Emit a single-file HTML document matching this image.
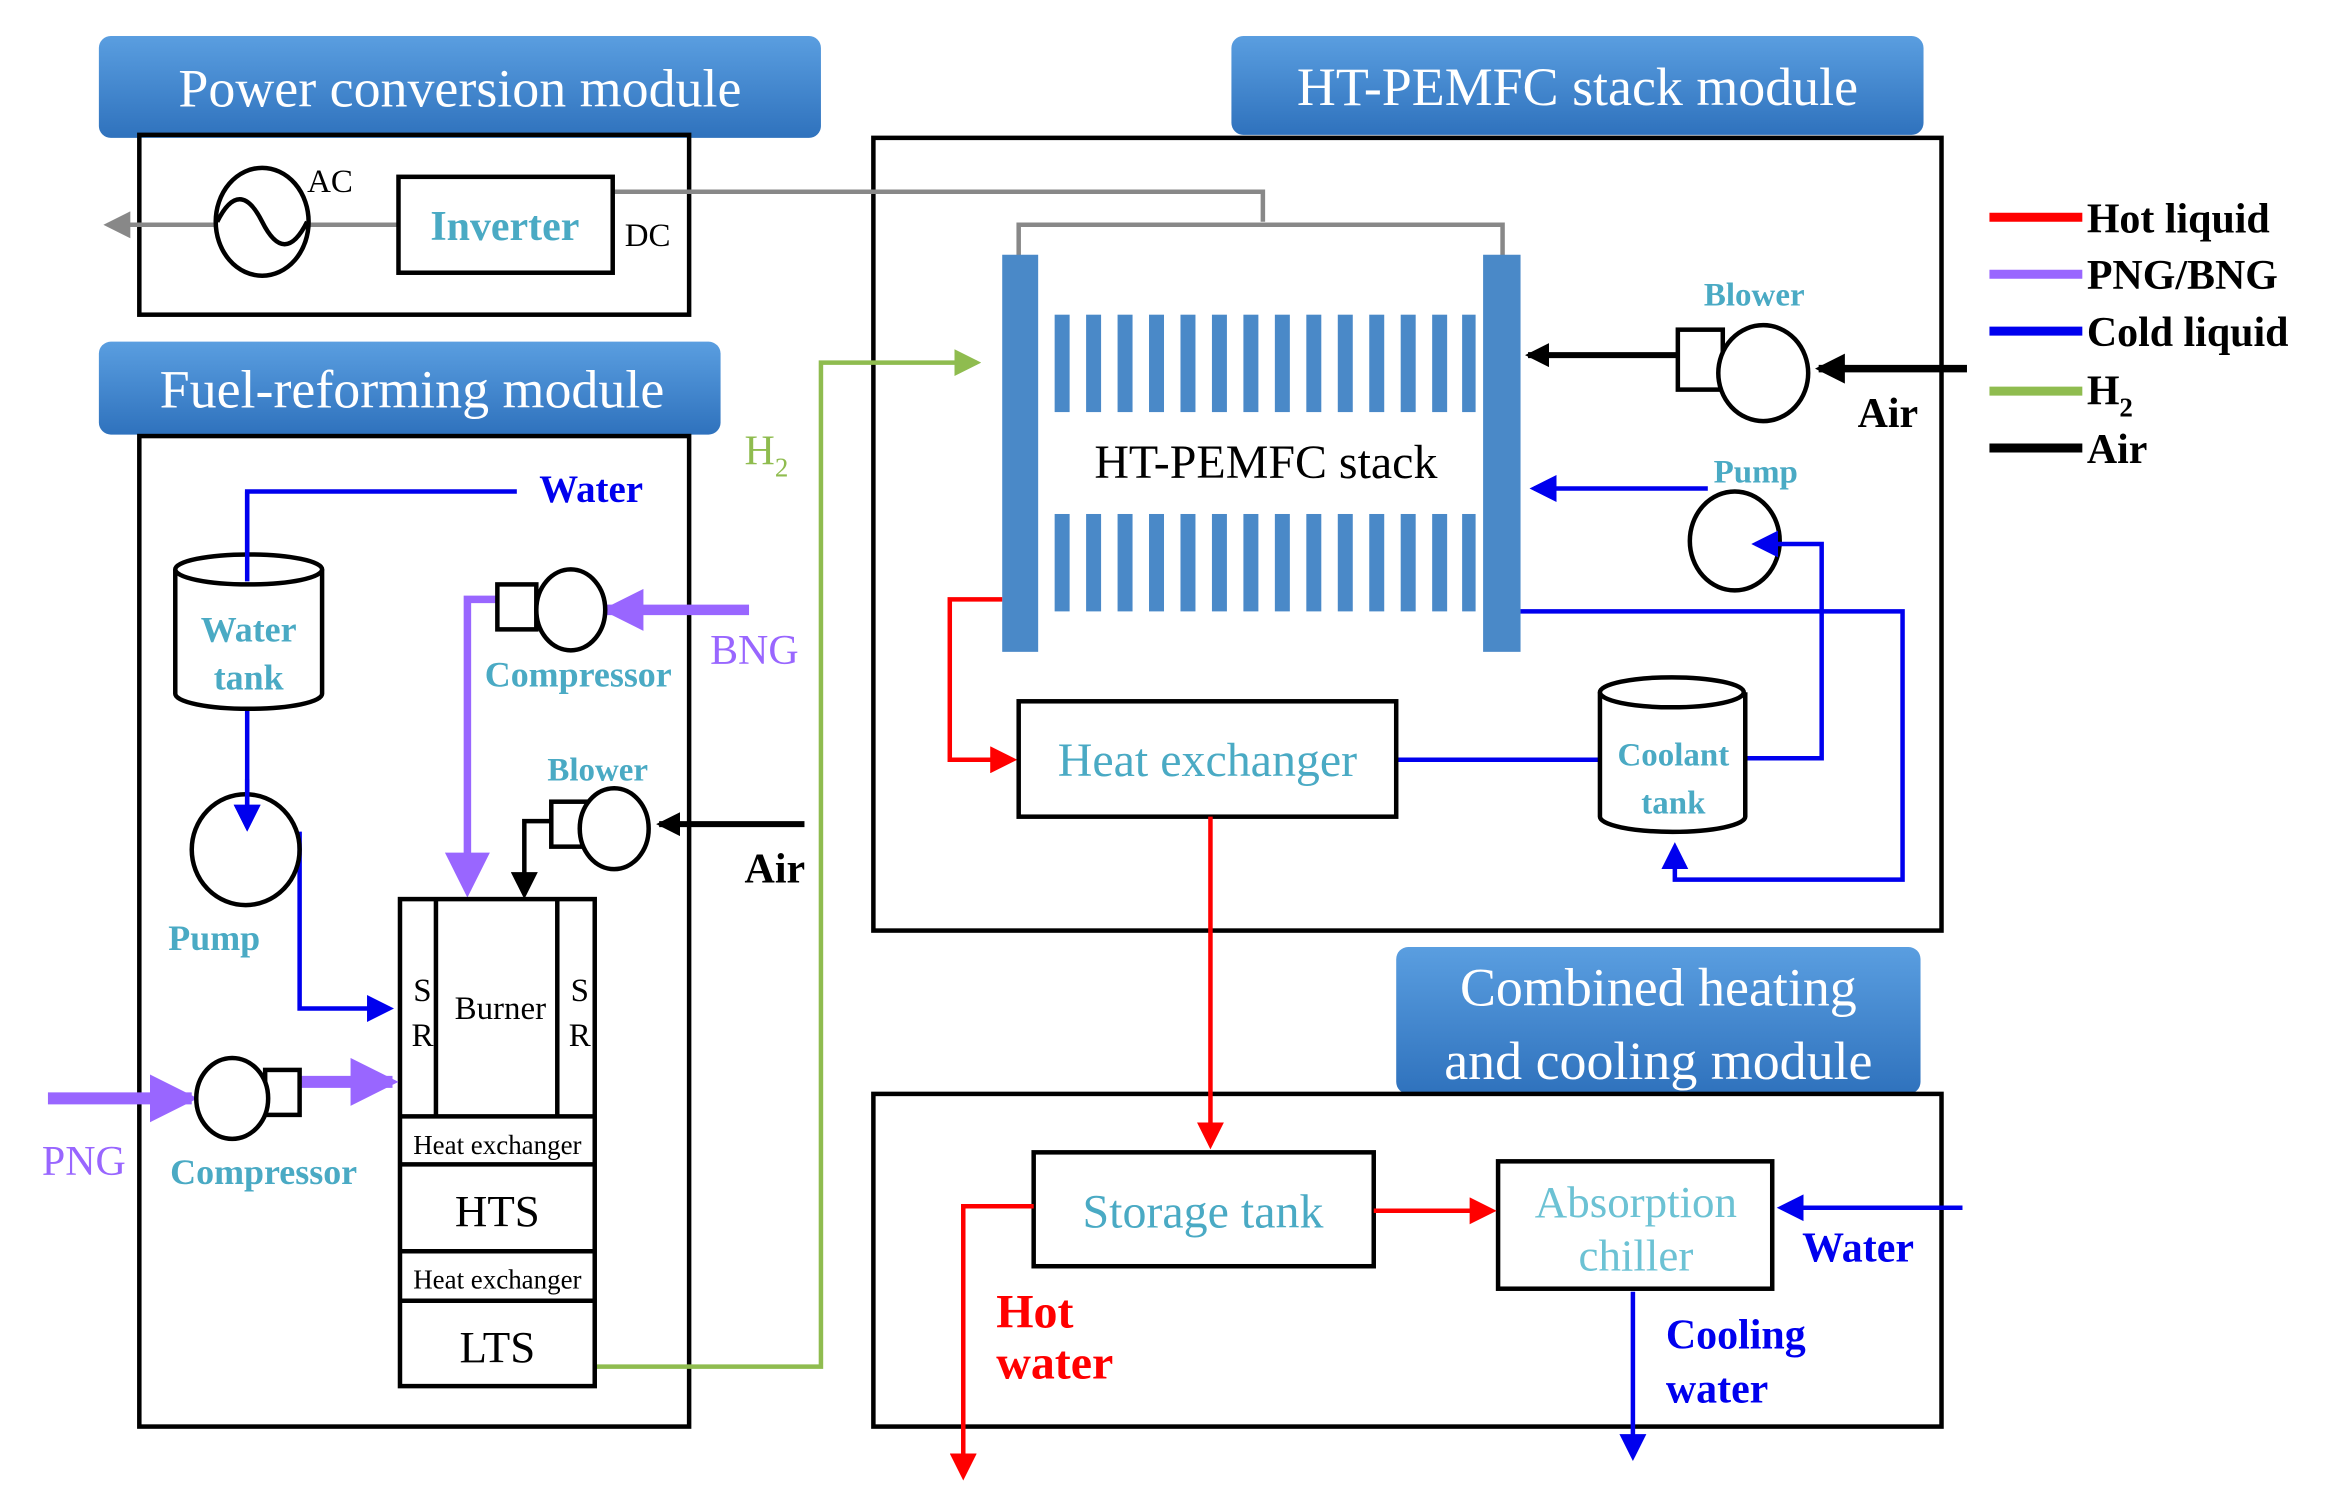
<!DOCTYPE html>
<html><head><meta charset="utf-8"><style>
html,body{margin:0;padding:0;background:#fff;}
svg{display:block;}
text{font-family:"Liberation Serif",serif;}
.t{fill:#4aaac4;font-weight:bold;}
</style></head><body>
<svg width="2337" height="1497" viewBox="0 0 1560 999" preserveAspectRatio="none" xmlns="http://www.w3.org/2000/svg">
<defs>
<linearGradient id="g" x1="0" y1="0" x2="0" y2="1"><stop offset="0" stop-color="#5a9ee0"/><stop offset="1" stop-color="#2f72bd"/></linearGradient>
<marker id="ab" markerWidth="6" markerHeight="6" refX="5" refY="3" orient="auto" markerUnits="strokeWidth"><path d="M0,0L6,3L0,6z" fill="#0000ee"/></marker>
<marker id="ar" markerWidth="6" markerHeight="6" refX="5" refY="3" orient="auto" markerUnits="strokeWidth"><path d="M0,0L6,3L0,6z" fill="#f00"/></marker>
<marker id="ak" markerWidth="4" markerHeight="4" refX="3.5" refY="2" orient="auto" markerUnits="strokeWidth"><path d="M0,0L4,2L0,4z" fill="#000"/></marker>
<marker id="ak2" markerWidth="6" markerHeight="6" refX="5" refY="3" orient="auto" markerUnits="strokeWidth"><path d="M0,0L6,3L0,6z" fill="#000"/></marker>
<marker id="ap" markerWidth="4" markerHeight="4" refX="3.5" refY="2" orient="auto" markerUnits="strokeWidth"><path d="M0,0L4,2L0,4z" fill="#9966ff"/></marker>
<marker id="ap2" markerWidth="6" markerHeight="6" refX="5" refY="3" orient="auto" markerUnits="strokeWidth"><path d="M0,0L6,3L0,6z" fill="#9966ff"/></marker>
<marker id="ag" markerWidth="6" markerHeight="6" refX="5" refY="3" orient="auto" markerUnits="strokeWidth"><path d="M0,0L6,3L0,6z" fill="#8fbc4f"/></marker>
<marker id="agr" markerWidth="6" markerHeight="6" refX="5" refY="3" orient="auto" markerUnits="strokeWidth"><path d="M0,0L6,3L0,6z" fill="#888"/></marker>
</defs>

<rect x="66" y="24" width="482" height="68" rx="8" fill="url(#g)"/>
<text x="307" y="71" font-size="36" fill="#fff" text-anchor="middle">Power conversion module</text>
<rect x="822" y="24" width="462" height="66" rx="8" fill="url(#g)"/>
<text x="1053" y="70" font-size="36" fill="#fff" text-anchor="middle">HT-PEMFC stack module</text>
<rect x="66" y="228" width="415" height="62" rx="8" fill="url(#g)"/>
<text x="275" y="272" font-size="36" fill="#fff" text-anchor="middle">Fuel-reforming module</text>
<rect x="932" y="632" width="350" height="98" rx="8" fill="url(#g)"/>
<text x="1107" y="671" font-size="36" fill="#fff" text-anchor="middle">Combined heating</text>
<text x="1107" y="720" font-size="36" fill="#fff" text-anchor="middle">and cooling module</text>

<g fill="none" stroke="#000" stroke-width="3">
<rect x="93" y="90" width="367" height="120"/>
<rect x="583" y="92" width="713" height="529"/>
<rect x="93" y="291" width="367" height="661"/>
<rect x="583" y="730" width="713" height="222"/>
</g>

<g stroke="#888" stroke-width="3" fill="none">
<line x1="266" y1="150" x2="72" y2="150" marker-end="url(#agr)"/>
<polyline points="409,128 843,128 843,148"/>
<polyline points="680,172 680,150 1003,150 1003,172"/>
</g>
<ellipse cx="175" cy="148" rx="31" ry="36" fill="#fff" stroke="#000" stroke-width="3"/>
<path d="M145,148 C155,128 165,128 175,148 C185,168 195,168 205,148" fill="none" stroke="#000" stroke-width="3"/>
<text x="205" y="128" font-size="22">AC</text>
<rect x="266" y="118" width="143" height="64" fill="#fff" stroke="#000" stroke-width="3"/>
<text x="337" y="160" font-size="28" class="t" text-anchor="middle">Inverter</text>
<text x="417" y="164" font-size="22">DC</text>

<rect x="669" y="170" width="24" height="265" fill="#4a89c8"/>
<rect x="990" y="170" width="25" height="265" fill="#4a89c8"/>
<g fill="#4a89c8">
<rect x="704" y="210" width="10" height="65"/><rect x="725" y="210" width="10" height="65"/><rect x="746" y="210" width="10" height="65"/><rect x="767" y="210" width="10" height="65"/><rect x="788" y="210" width="10" height="65"/><rect x="809" y="210" width="10" height="65"/><rect x="830" y="210" width="10" height="65"/><rect x="851" y="210" width="10" height="65"/><rect x="872" y="210" width="10" height="65"/><rect x="893" y="210" width="10" height="65"/><rect x="914" y="210" width="10" height="65"/><rect x="935" y="210" width="10" height="65"/><rect x="956" y="210" width="10" height="65"/><rect x="976" y="210" width="9" height="65"/>
<rect x="704" y="343" width="10" height="65"/><rect x="725" y="343" width="10" height="65"/><rect x="746" y="343" width="10" height="65"/><rect x="767" y="343" width="10" height="65"/><rect x="788" y="343" width="10" height="65"/><rect x="809" y="343" width="10" height="65"/><rect x="830" y="343" width="10" height="65"/><rect x="851" y="343" width="10" height="65"/><rect x="872" y="343" width="10" height="65"/><rect x="893" y="343" width="10" height="65"/><rect x="914" y="343" width="10" height="65"/><rect x="935" y="343" width="10" height="65"/><rect x="956" y="343" width="10" height="65"/><rect x="976" y="343" width="9" height="65"/>
</g>
<text x="845" y="319" font-size="32" text-anchor="middle">HT-PEMFC stack</text>

<line x1="1313" y1="246" x2="1214" y2="246" stroke="#000" stroke-width="5" marker-end="url(#ak)"/>
<line x1="1120" y1="237" x2="1020" y2="237" stroke="#000" stroke-width="4" marker-end="url(#ak)"/>
<rect x="1120" y="220" width="30" height="40" fill="#fff" stroke="#000" stroke-width="3"/>
<ellipse cx="1177" cy="249" rx="30" ry="32" fill="#fff" stroke="#000" stroke-width="3"/>
<text x="1171" y="204" font-size="22" class="t" text-anchor="middle">Blower</text>
<text x="1240" y="285" font-size="28" font-weight="bold">Air</text>
<ellipse cx="1158" cy="361" rx="30" ry="33" fill="#fff" stroke="#000" stroke-width="3"/>
<text x="1172" y="322" font-size="22" class="t" text-anchor="middle">Pump</text>
<g fill="none" stroke="#0000ee" stroke-width="3">
<line x1="1140" y1="326" x2="1024" y2="326" marker-end="url(#ab)"/>
<polyline points="1015,408 1270,408 1270,587 1118,587 1118,565" marker-end="url(#ab)"/>
<polyline points="1165,506 1216,506 1216,363 1172,363" marker-end="url(#ab)"/>
<line x1="932" y1="507" x2="1068" y2="507"/>
</g>
<path d="M1068,462 L1068,545 A48,10 0 0 0 1165,545 L1165,462" fill="#fff" stroke="#000" stroke-width="3"/>
<ellipse cx="1116" cy="462" rx="48" ry="10" fill="#fff" stroke="#000" stroke-width="3"/>
<text x="1117" y="511" font-size="22" class="t" text-anchor="middle">Coolant</text>
<text x="1117" y="543" font-size="22" class="t" text-anchor="middle">tank</text>

<polyline points="669,400 634,400 634,507 676,507" fill="none" stroke="#f00" stroke-width="3" marker-end="url(#ar)"/>
<rect x="680" y="468" width="252" height="77" fill="#fff" stroke="#000" stroke-width="3"/>
<text x="806" y="518" font-size="32" fill="#4aaac4" text-anchor="middle">Heat exchanger</text>
<line x1="808" y1="545" x2="808" y2="764" stroke="#f00" stroke-width="3" marker-end="url(#ar)"/>

<g stroke-width="6">
<line x1="1328" y1="145" x2="1390" y2="145" stroke="#f00"/>
<line x1="1328" y1="183" x2="1390" y2="183" stroke="#9966ff"/>
<line x1="1328" y1="221" x2="1390" y2="221" stroke="#0000ee"/>
<line x1="1328" y1="261" x2="1390" y2="261" stroke="#8fbc4f"/>
<line x1="1328" y1="299" x2="1390" y2="299" stroke="#000"/>
</g>
<g font-size="28" font-weight="bold">
<text x="1393" y="155">Hot liquid</text>
<text x="1393" y="193">PNG/BNG</text>
<text x="1393" y="231">Cold liquid</text>
<text x="1393" y="270">H<tspan font-size="18" dy="8">2</tspan></text>
<text x="1393" y="309">Air</text>
</g>

<rect x="690" y="769" width="227" height="76" fill="#fff" stroke="#000" stroke-width="3"/>
<text x="803" y="819" font-size="32" fill="#4aaac4" text-anchor="middle">Storage tank</text>
<rect x="1000" y="775" width="183" height="85" fill="#fff" stroke="#000" stroke-width="3"/>
<text x="1092" y="812" font-size="30" fill="#6cc2d4" text-anchor="middle">Absorption</text>
<text x="1092" y="848" font-size="30" fill="#6cc2d4" text-anchor="middle">chiller</text>
<line x1="917" y1="808" x2="996" y2="808" stroke="#f00" stroke-width="3" marker-end="url(#ar)"/>
<line x1="1310" y1="806" x2="1189" y2="806" stroke="#0000ee" stroke-width="3" marker-end="url(#ab)"/>
<text x="1203" y="842" font-size="28" font-weight="bold" fill="#0000ee">Water</text>
<line x1="1090" y1="862" x2="1090" y2="972" stroke="#0000ee" stroke-width="3" marker-end="url(#ab)"/>
<text x="1112" y="900" font-size="28" font-weight="bold" fill="#0000ee">Cooling</text>
<text x="1112" y="936" font-size="28" font-weight="bold" fill="#0000ee">water</text>
<polyline points="690,805 643,805 643,985" fill="none" stroke="#f00" stroke-width="3" marker-end="url(#ar)"/>
<text x="665" y="886" font-size="32" font-weight="bold" fill="#f00">Hot</text>
<text x="665" y="920" font-size="32" font-weight="bold" fill="#f00">water</text>

<polyline points="397,912 548,912 548,242 652,242" fill="none" stroke="#8fbc4f" stroke-width="3" marker-end="url(#ag)"/>
<text x="497" y="310" font-size="28" fill="#8fbc4f">H<tspan font-size="18" dy="8">2</tspan></text>

<g fill="none" stroke="#0000ee" stroke-width="3">
<polyline points="345,328 165,328 165,378"/>
<line x1="165" y1="473" x2="165" y2="552" marker-end="url(#ab)"/>
<polyline points="200,555 200,673 260,673" marker-end="url(#ab)"/>
</g>
<text x="360" y="335" font-size="26" font-weight="bold" fill="#0000ee">Water</text>
<path d="M117,380 L117,463 A49,10 0 0 0 215,463 L215,380" fill="#fff" stroke="#000" stroke-width="3"/>
<ellipse cx="166" cy="380" rx="49" ry="10" fill="#fff" stroke="#000" stroke-width="3"/>
<line x1="165" y1="328" x2="165" y2="388" stroke="#0000ee" stroke-width="3"/>
<text x="166" y="428" font-size="24" class="t" text-anchor="middle">Water</text>
<text x="166" y="460" font-size="24" class="t" text-anchor="middle">tank</text>
<ellipse cx="164" cy="567" rx="36" ry="37" fill="none" stroke="#000" stroke-width="3"/>
<line x1="165" y1="520" x2="165" y2="552" stroke="#0000ee" stroke-width="3" marker-end="url(#ab)"/>
<text x="143" y="634" font-size="24" class="t" text-anchor="middle">Pump</text>

<line x1="500" y1="407" x2="405" y2="407" stroke="#9966ff" stroke-width="7" marker-end="url(#ap)"/>
<polyline points="332,400 312,400 312,594" fill="none" stroke="#9966ff" stroke-width="5" marker-end="url(#ap2)"/>
<rect x="332" y="390" width="26" height="30" fill="#fff" stroke="#000" stroke-width="3"/>
<ellipse cx="381" cy="407" rx="23" ry="27" fill="#fff" stroke="#000" stroke-width="3"/>
<text x="386" y="458" font-size="24" class="t" text-anchor="middle">Compressor</text>
<text x="474" y="443" font-size="28" fill="#9966ff">BNG</text>

<line x1="537" y1="550" x2="440" y2="550" stroke="#000" stroke-width="4" marker-end="url(#ak)"/>
<polyline points="368,548 350,548 350,597" fill="none" stroke="#000" stroke-width="3" marker-end="url(#ak2)"/>
<rect x="368" y="535" width="25" height="30" fill="#fff" stroke="#000" stroke-width="3"/>
<ellipse cx="410" cy="553" rx="23" ry="27" fill="#fff" stroke="#000" stroke-width="3"/>
<text x="399" y="521" font-size="22" class="t" text-anchor="middle">Blower</text>
<text x="497" y="589" font-size="28" font-weight="bold">Air</text>

<g fill="#fff" stroke="#000" stroke-width="3">
<rect x="267" y="600" width="130" height="325"/>
<line x1="291" y1="600" x2="291" y2="745"/>
<line x1="372" y1="600" x2="372" y2="745"/>
<line x1="267" y1="745" x2="397" y2="745"/>
<line x1="267" y1="777" x2="397" y2="777"/>
<line x1="267" y1="835" x2="397" y2="835"/>
<line x1="267" y1="868" x2="397" y2="868"/>
</g>
<g font-size="22">
<text x="282" y="668" text-anchor="middle">S</text><text x="282" y="698" text-anchor="middle">R</text>
<text x="387" y="668" text-anchor="middle">S</text><text x="387" y="698" text-anchor="middle">R</text>
<text x="334" y="680" text-anchor="middle">Burner</text>
</g>
<text x="332" y="770" font-size="18" text-anchor="middle">Heat exchanger</text>
<text x="332" y="818" font-size="30" text-anchor="middle">HTS</text>
<text x="332" y="860" font-size="18" text-anchor="middle">Heat exchanger</text>
<text x="332" y="909" font-size="30" text-anchor="middle">LTS</text>

<line x1="32" y1="733" x2="128" y2="733" stroke="#9966ff" stroke-width="8" marker-end="url(#ap)"/>
<line x1="200" y1="722" x2="262" y2="722" stroke="#9966ff" stroke-width="8" marker-end="url(#ap)"/>
<rect x="177" y="714" width="23" height="30" fill="#fff" stroke="#000" stroke-width="3"/>
<ellipse cx="155" cy="733" rx="24" ry="27" fill="#fff" stroke="#000" stroke-width="3"/>
<text x="28" y="784" font-size="28" fill="#9966ff">PNG</text>
<text x="176" y="790" font-size="24" class="t" text-anchor="middle">Compressor</text>
</svg>
</body></html>
